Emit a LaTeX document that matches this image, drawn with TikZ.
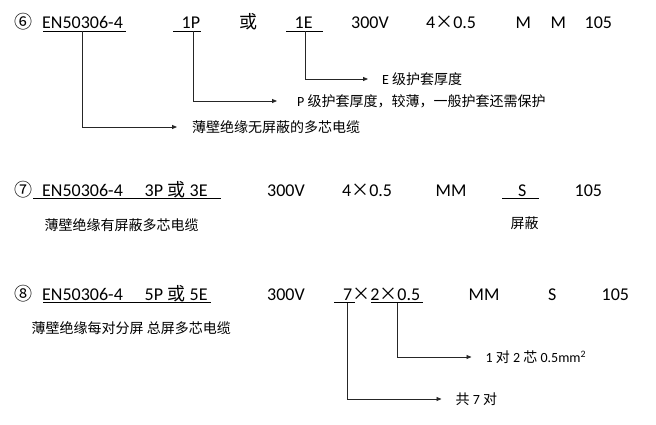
\documentclass[tikz,border=0pt]{standalone}
\usepackage{fontspec}
\setmainfont{Carlito}
\newfontfamily\cjk{Noto Sans CJK SC}
\newfontfamily\cjkfw[CharacterWidth=Full]{Noto Sans CJK SC}
\usetikzlibrary{arrows.meta}
\newcommand{\mx}{{\cjkfw ×}}
\tikzset{
  main/.style={anchor=base west,inner sep=0pt,font=\fontsize{18}{20}\selectfont},
  lbl/.style={anchor=west,inner sep=0pt,font=\fontsize{14}{16}\selectfont},
  uline/.style={line width=0.9pt,black},
  conn/.style={line width=0.8pt,black!85,-{Triangle[length=5pt,width=4pt]}},
}
\begin{document}
\begin{tikzpicture}[x=1pt,y=-1pt]
\useasboundingbox (0,0) rectangle (656,424);
% ---------- row 1 ----------
\node[main] (n6) at (14,28) {\cjk ⑥};
\node[main] (a1) at (42,28) {EN50306-4};
\node[main] (a2) at (181.5,28) {1P};
\node[main] (a3) at (239.5,28) {\cjk 或};
\node[main] (a4) at (294.5,28) {1E};
\node[main] (a5) at (351,28) {300V};
\node[main] (a6) at (426,28) {4\mx0.5};
\node[main] (a7) at (515.5,28) {M};
\node[main] (a8) at (550.5,28) {M};
\node[main] (a9) at (584.5,28) {105};
\draw[uline] (43,31) -- (126,31);
\draw[uline] (173,31) -- (201,31);
\draw[uline] (286,31) -- (323,31);
\coordinate (s1) at (82,31);
\coordinate (s2) at (193,31);
\coordinate (s3) at (305,31);
\node[lbl] (l3) at (382,79) {E {\cjk 级护套厚度}};
\node[lbl] (l2) at (297,101) {P {\cjk 级护套厚度，较薄，一般护套还需保护}};
\node[lbl] (l1) at (192,127) {\cjk 薄壁绝缘无屏蔽的多芯电缆};
\draw[conn] (s3) |- ([xshift=-14pt]l3.west);
\draw[conn] (s2) |- ([xshift=-20pt]l2.west);
\draw[conn] (s1) |- ([xshift=-15pt]l1.west);
% ---------- row 2 ----------
\node[main] (n7) at (14,196) {\cjk ⑦};
\node[main] (b1) at (42,196) {EN50306-4};
\node[main] (b2) at (144.5,196) {3P};
\node[main] (b3) at (167.5,196) {\cjk 或};
\node[main] (b4) at (189.5,196) {3E};
\node[main] (b5) at (267,196) {300V};
\node[main] (b6) at (342,196) {4\mx0.5};
\node[main] (b7) at (435.5,196) {MM};
\node[main] (b8) at (518,196) {S};
\node[main] (b9) at (574.5,196) {105};
\draw[uline] (33,198.5) -- (221,198.5);
\draw[uline] (502,198.5) -- (539,198.5);
\node[lbl] (m1) at (44.5,225) {\cjk 薄壁绝缘有屏蔽多芯电缆};
\node[lbl] (m2) at (510.5,223) {\cjk 屏蔽};
% ---------- row 3 ----------
\node[main] (n8) at (14,300) {\cjk ⑧};
\node[main] (c1) at (42,300) {EN50306-4};
\node[main] (c2) at (144.5,300) {5P};
\node[main] (c3) at (167.5,300) {\cjk 或};
\node[main] (c4) at (189.5,300) {5E};
\node[main] (c5) at (267,300) {300V};
\node[main] (c6) at (343,300) {7\mx2\mx0.5};
\node[main] (c7) at (468.5,300) {MM};
\node[main] (c8) at (548,300) {S};
\node[main] (c9) at (601.5,300) {105};
\draw[uline] (43,302.5) -- (211,302.5);
\draw[uline] (334,302.5) -- (355,302.5);
\draw[uline] (371,302.5) -- (423,302.5);
\node[lbl] (k1) at (31.5,328) {\cjk 薄壁绝缘每对分屏 总屏多芯电缆};
\coordinate (t1) at (347,302.5);
\coordinate (t2) at (397,302.5);
\node[lbl] (k2) at (485.5,357) {1 {\cjk 对} 2 {\cjk 芯} 0.5mm\textsuperscript{2}};
\node[lbl] (k3) at (455.5,399) {{\cjk 共} 7 {\cjk 对}};
\draw[conn] (t2) |- ([xshift=-14pt]k2.west);
\draw[conn] (t1) |- ([xshift=-14pt]k3.west);
\end{tikzpicture}
\end{document}
